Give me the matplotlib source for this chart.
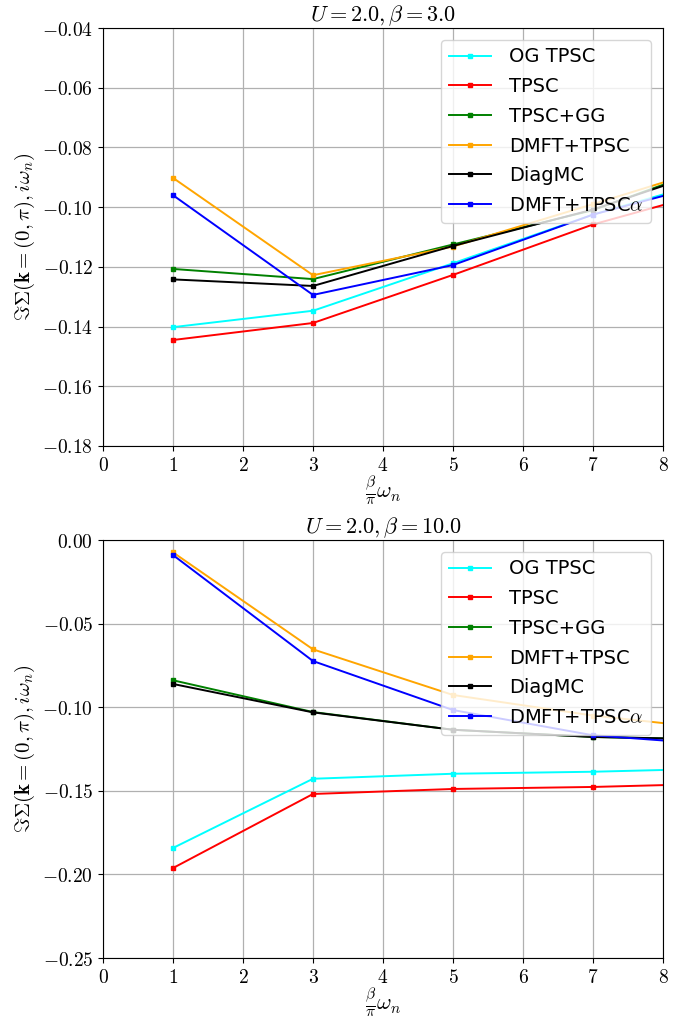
import numpy as np
import matplotlib
matplotlib.use("Agg")
import matplotlib.pyplot as plt
from matplotlib.ticker import FuncFormatter

plt.rcParams['mathtext.fontset'] = 'cm'
plt.rcParams['font.family'] = ['DejaVu Sans']

x = [1, 3, 5, 7, 9]
labels = ["OG TPSC", "TPSC", "TPSC+GG", "DMFT+TPSC", "DiagMC", r"DMFT+TPSC$\alpha$"]
colors = ["cyan", "red", "green", "orange", "black", "blue"]

# U=2.0, beta=3.0
b3_og = [-0.1402, -0.1347, -0.1188, -0.1025, -0.0890]
b3_tpsc = [-0.1445, -0.1388, -0.1227, -0.1058, -0.0928]
b3_gg = [-0.1207, -0.1241, -0.1125, -0.1010, -0.0840]
b3_dmft = [-0.0902, -0.1228, -0.1132, -0.0990, -0.0845]
b3_diag = [-0.1242, -0.1264, -0.1130, -0.1008, -0.0850]
b3_alpha = [-0.0960, -0.1294, -0.1194, -0.1025, -0.0900]

# U=2.0, beta=10.0
b10_og = [-0.1842, -0.1428, -0.1398, -0.1386, -0.1365]
b10_tpsc = [-0.1962, -0.1519, -0.1489, -0.1477, -0.1455]
b10_gg = [-0.0839, -0.1029, -0.1135, -0.1178, -0.1195]
b10_dmft = [-0.0074, -0.0654, -0.0927, -0.1050, -0.1140]
b10_diag = [-0.0861, -0.1031, -0.1135, -0.1178, -0.1195]
b10_alpha = [-0.0090, -0.0724, -0.1017, -0.1168, -0.1230]

panels = [
    (r"$U=2.0, \beta=3.0$", [b3_og, b3_tpsc, b3_gg, b3_dmft, b3_diag, b3_alpha], (-0.18, -0.04), np.arange(-0.18, -0.039, 0.02)),
    (r"$U=2.0, \beta=10.0$", [b10_og, b10_tpsc, b10_gg, b10_dmft, b10_diag, b10_alpha], (-0.25, 0.0), np.arange(-0.25, 0.001, 0.05)),
]

fig = plt.figure(figsize=(6.95, 10.19), dpi=100)
rects = [
    [103/695, 1-446/1019, 560/695, 418/1019],
    [103/695, 1-958/1019, 560/695, 418/1019],
]

for rect, (title, series, ylim, yt) in zip(rects, panels):
    ax = fig.add_axes(rect)
    for s, lab, c in zip(series, labels, colors):
        ax.plot(x, s, color=c, marker='s', markersize=2.5, linewidth=1.4, label=lab)
    ax.set_xlim(0, 8)
    ax.set_ylim(*ylim)
    ax.set_yticks(yt)
    ax.set_xticks(range(0, 9))
    ax.yaxis.set_major_formatter(FuncFormatter(lambda v, p: "$" + "{:.2f}".format(v).replace("-0.00", "0.00") + "$"))
    ax.xaxis.set_major_formatter(FuncFormatter(lambda v, p: "$%d$" % round(v)))
    ax.tick_params(labelsize=14)
    ax.grid(True, color='#b0b0b0', linewidth=0.9)
    ax.set_title(title, fontsize=16, pad=4)
    ax.set_xlabel(r"$\frac{\beta}{\pi}\omega_n$", fontsize=16, labelpad=-1)
    ax.set_ylabel(r"$\Im\Sigma(\mathbf{k}=(0,\pi),i\omega_n)$", fontsize=15, labelpad=4)
    ax.legend(loc='upper right', fontsize=14, labelspacing=0.55, handlelength=2.2,
              handletextpad=0.9, borderaxespad=0.6)

fig.savefig("out.png", dpi=100)
